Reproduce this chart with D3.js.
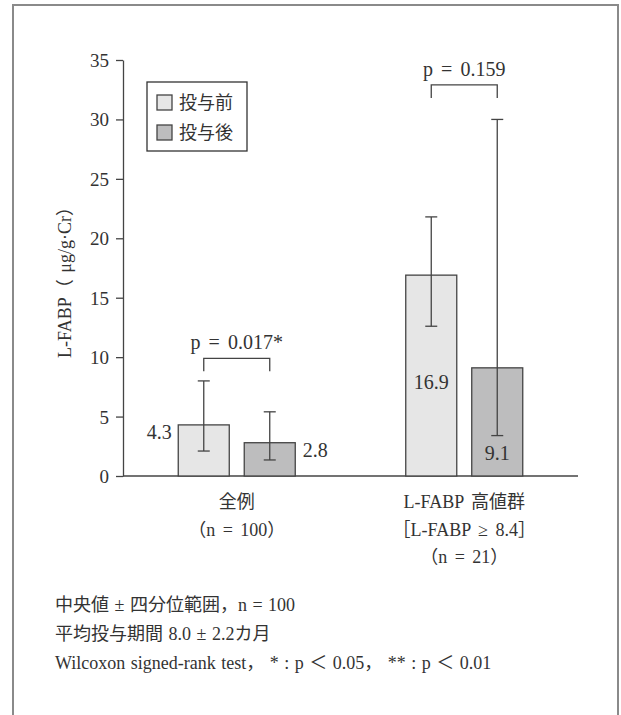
<!DOCTYPE html>
<html>
<head>
<meta charset="utf-8">
<script src="https://cdn.jsdelivr.net/npm/d3@7"></script>
<style>
  body { margin: 0; background: #fff; }
  svg text { font-family: "Liberation Serif", "Noto Sans CJK JP", serif; fill: #333; }
</style>
</head>
<body>
<svg id="chart" width="621" height="715"></svg>
<script>
// Data
const groups = ["全例", "L-FABP 高値群"];
const series = ["投与前", "投与後"];
const medianBefore = [4.3, 16.9];
const medianAfter = [2.8, 9.1];
const lowerBefore = [2.1, 12.6];
const upperBefore = [8.0, 21.8];
const lowerAfter = [1.35, 3.4];
const upperAfter = [5.4, 30.0];
const pLabels = ["p = 0.017*", "p = 0.159"];
const bracketLevels = [9.9, 32.9];
const groupLabels = [["全例", "（n = 100）"], ["L-FABP 高値群", "［L-FABP ≥ 8.4］", "（n = 21）"]];
const yTicks = [0, 5, 10, 15, 20, 25, 30, 35];
const footnotes = [
  "中央値 ± 四分位範囲，n = 100",
  "平均投与期間 8.0 ± 2.2カ月",
  "Wilcoxon signed-rank test， * : p ＜ 0.05， ** : p ＜ 0.01"
];

const colors = ["#e6e6e6", "#bdbdbe"];
const stroke = "#444";
const serif = "'Liberation Serif', 'Noto Sans CJK JP', serif";

const svg = d3.select("#chart");

// frame
svg.append("path")
    .attr("d", "M13,730 L13,5 L618,5 L618,730")
    .attr("fill", "none")
    .attr("stroke", "#8a8a8a")
    .attr("stroke-width", 2);

const margin = { left: 123, right: 578, top: 60, bottom: 476 };

const y = d3.scaleLinear().domain([0, 35]).range([margin.bottom, margin.top]);
const x0 = d3.scaleBand().domain(groups).range([margin.left, margin.right]).padding(0);
const x1 = d3.scaleBand().domain(series).range([-58.5, 58.5]).paddingInner(0.227);

// y axis
const yAxis = svg.append("g")
    .attr("transform", `translate(${margin.left},0)`)
    .call(d3.axisLeft(y).tickValues(yTicks).tickSize(7).tickPadding(7).tickSizeOuter(0));
yAxis.attr("font-family", serif);
yAxis.select(".domain").attr("stroke", stroke).attr("stroke-width", 1.3);
yAxis.selectAll(".tick line").attr("stroke", stroke).attr("stroke-width", 1.3);
yAxis.selectAll(".tick text")
    .attr("font-size", "19px")
    .attr("fill", "#333")
    .attr("dy", "0.34em");

// x axis line
svg.append("line")
    .attr("x1", margin.left).attr("x2", margin.right)
    .attr("y1", y(0)).attr("y2", y(0))
    .attr("stroke", stroke).attr("stroke-width", 1.5);

// y label
svg.append("text")
    .attr("transform", `translate(71, ${y(17.5) + 10}) rotate(-90)`)
    .attr("text-anchor", "middle")
    .attr("font-size", "18px")
    .attr("word-spacing", "2px")
    .text("L-FABP（ μg/g·Cr）");

// bars
const rows = groups.map((g, i) => [
    { group: g, s: series[0], i, k: 0, v: medianBefore[i], lo: lowerBefore[i], hi: upperBefore[i] },
    { group: g, s: series[1], i, k: 1, v: medianAfter[i], lo: lowerAfter[i], hi: upperAfter[i] }
]).flat();

const cx = d => x0(d.group) + x0.bandwidth() / 2 + x1(d.s) + x1.bandwidth() / 2;

svg.selectAll(".bar")
    .data(rows)
    .join("rect")
    .attr("class", "bar")
    .attr("x", d => x0(d.group) + x0.bandwidth() / 2 + x1(d.s))
    .attr("y", d => y(d.v))
    .attr("width", x1.bandwidth())
    .attr("height", d => y(0) - y(d.v))
    .attr("fill", d => colors[d.k])
    .attr("stroke", stroke)
    .attr("stroke-width", 1.3);

// error bars
const err = svg.selectAll(".err").data(rows).join("g").attr("class", "err");
err.append("line")
    .attr("x1", cx).attr("x2", cx)
    .attr("y1", d => y(d.lo)).attr("y2", d => y(d.hi))
    .attr("stroke", stroke).attr("stroke-width", 1.3);
err.selectAll(".cap")
    .data(d => [d.lo, d.hi].map(v => ({ v, c: cx(d) })))
    .join("line")
    .attr("x1", d => d.c - 6).attr("x2", d => d.c + 6)
    .attr("y1", d => y(d.v)).attr("y2", d => y(d.v))
    .attr("stroke", stroke).attr("stroke-width", 1.3);

// value labels
svg.selectAll(".val")
    .data(rows)
    .join("text")
    .attr("class", "val")
    .attr("font-size", "20px")
    .attr("text-anchor", d => d.i === 0 ? (d.k === 0 ? "end" : "start") : "middle")
    .attr("x", d => {
        if (d.i === 1) return cx(d);
        return d.k === 0 ? cx(d) - 32 : cx(d) + 33;
    })
    .attr("y", d => d.i === 0 ? y(d.v) + 14 : (d.k === 0 ? y(d.v) + 114 : y(d.lo) + 24))
    .text(d => d.v.toFixed(1));

// p-value brackets
groups.forEach((g, i) => {
    const a = x0(g) + x0.bandwidth() / 2 + x1(series[0]) + x1.bandwidth() / 2;
    const b = x0(g) + x0.bandwidth() / 2 + x1(series[1]) + x1.bandwidth() / 2;
    const yy = y(bracketLevels[i]);
    svg.append("path")
        .attr("d", `M${a},${yy + 13} V${yy} H${b} V${yy + 13}`)
        .attr("fill", "none")
        .attr("stroke", stroke)
        .attr("stroke-width", 1.3);
    svg.append("text")
        .attr("x", (a + b) / 2)
        .attr("y", yy - 9)
        .attr("text-anchor", "middle")
        .attr("font-size", "20px")
        .attr("word-spacing", "3px")
        .text(pLabels[i]);
});

// group labels
groups.forEach((g, i) => {
    groupLabels[i].forEach((t, j) => {
        svg.append("text")
            .attr("x", x0(g) + x0.bandwidth() / 2)
            .attr("y", 508 + j * 27.5)
            .attr("text-anchor", "middle")
            .attr("font-size", "18px")
            .attr("word-spacing", "3px")
            .text(t);
    });
});

// legend
const legend = svg.append("g").attr("transform", "translate(147,82)");
legend.append("rect")
    .attr("width", 100).attr("height", 69)
    .attr("fill", "#fff").attr("stroke", "#333").attr("stroke-width", 1.3);
series.forEach((s, k) => {
    legend.append("rect")
        .attr("x", 10).attr("y", 13 + k * 30)
        .attr("width", 15).attr("height", 15)
        .attr("fill", colors[k]).attr("stroke", stroke).attr("stroke-width", 1.3);
    legend.append("text")
        .attr("x", 32).attr("y", 27 + k * 30)
        .attr("font-size", "18px")
        .text(s);
});

// footnotes
footnotes.forEach((t, j) => {
    svg.append("text")
        .attr("x", 55)
        .attr("y", 611 + j * 29)
        .attr("font-size", "18px")
        .attr("word-spacing", "1px")
        .text(t);
});
</script>
</body>
</html>
